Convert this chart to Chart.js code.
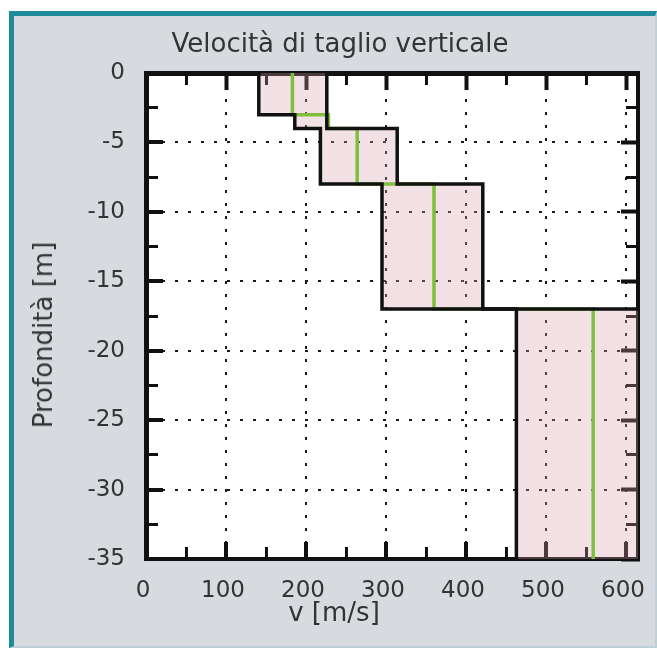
<!DOCTYPE html>
<html>
<head>
<meta charset="utf-8">
<script src="https://cdn.jsdelivr.net/npm/chart.js@4.4.1/dist/chart.umd.min.js"></script>
<style>
html,body{margin:0;padding:0;background:#ffffff;width:657px;height:648px;overflow:hidden;}
#frame{position:absolute;left:9px;top:11px;width:641px;height:630px;background:#d7dbdf;
  border-left:5px solid #1f8a9b;border-top:5px solid #1f8a9b;border-right:2px solid #bcd0d5;border-bottom:2px solid #bcd0d5;}
canvas{position:absolute;left:0;top:0;}
.t{position:absolute;font-family:"DejaVu Sans",Verdana,sans-serif;color:#333;font-size:26px;white-space:nowrap;line-height:1;}
</style>
</head>
<body>
<div id="frame"></div>
<canvas id="c" width="657" height="648"></canvas>
<div class="t" style="left:340px;top:43px;transform:translate(-50%,-50%);">Velocità di taglio verticale</div>
<div class="t" style="left:334px;top:612px;transform:translate(-50%,-50%);">v [m/s]</div>
<div class="t" style="left:43px;top:335px;transform:translate(-50%,-50%) rotate(-90deg);">Profondità [m]</div>
<script>
// ---- data ----
const layerTop    = [0, 3, 4, 8, 17];          // m (depth of layer top)
const layerBottom = [3, 4, 8, 17, 35];         // m (depth of layer bottom)
const vsMin  = [141, 186, 218, 295, 463];      // m/s, lower bound of each layer
const vsMax  = [226, 226, 314, 421, 650];      // m/s, upper bound (last one beyond the axis)
const vsMean = [183, 228, 264, 360, 559];      // m/s, mean profile (green)

const xMajor = [0, 100, 200, 300, 400, 500, 600];
const xLabels = ['0', '100', '200', '300', '400', '500', '600'];
const xMinor = [50, 150, 250, 350, 450, 550];
const yMajor = [-35, -30, -25, -20, -15, -10, -5, 0];
const yLabels = ['-35', '-30', '-25', '-20', '-15', '-10', '-5', '0'];
const yMinor = [-32.5, -27.5, -22.5, -17.5, -12.5, -7.5, -2.5];

// ---- build step profiles from the layer arrays ----
function profile(vals) {
  const pts = [];
  vals.forEach((v, i) => {
    pts.push({x: v, y: -layerTop[i]});
    pts.push({x: v, y: -layerBottom[i]});
  });
  return pts;
}
const minPts = profile(vsMin);
const maxPts = profile(vsMax);
const meanPts = profile(vsMean);
const bandPts = minPts.concat(maxPts.slice().reverse());

const plotBg = {
  id: 'plotBg',
  beforeDraw(chart) {
    const {ctx, chartArea: a} = chart;
    ctx.save();
    ctx.fillStyle = '#ffffff';
    ctx.fillRect(a.left, a.top, a.right - a.left, a.bottom - a.top);
    ctx.restore();
  }
};

const tickFont = {family: 'DejaVu Sans', size: 23};
const ink = '#111';
const setTicks = arr => s => { s.ticks = arr.map(v => ({value: v})); };
const fitTo = (dim, px) => s => {
  s[dim] = px;
  s.paddingLeft = 0; s.paddingRight = 0; s.paddingTop = 0; s.paddingBottom = 0;
};
const dotted = ctx => (ctx.tick && ctx.tick.value !== 0 && ctx.tick.value !== -35) ? '#1a1a1a' : 'rgba(0,0,0,0)';

const XR = {min: 0, max: 615};
const YR = {min: -35, max: 0};

new Chart(document.getElementById('c'), {
  type: 'line',
  data: {
    datasets: [
      {data: bandPts, fill: 'shape', backgroundColor: 'rgba(215,160,170,0.3)', borderWidth: 0, pointRadius: 0, order: 3},
      {data: meanPts, borderColor: '#7fbf3c', borderWidth: 3.5, pointRadius: 0, fill: false, order: 2},
      {data: minPts, borderColor: ink, borderWidth: 3.5, pointRadius: 0, fill: false, order: 1},
      {data: maxPts, borderColor: ink, borderWidth: 3.5, pointRadius: 0, fill: false, order: 1}
    ]
  },
  options: {
    responsive: false,
    animation: false,
    devicePixelRatio: 1,
    layout: {padding: 0},
    plugins: {legend: {display: false}, tooltip: {enabled: false}, title: {display: false}},
    scales: {
      x: {type: 'linear', axis: 'x', position: 'bottom', ...XR, bounds: 'data', weight: 1,
        afterBuildTicks: setTicks(xMajor), afterFit: fitTo('height', 89),
        ticks: {autoSkip: false, maxRotation: 0, padding: 35, labelOffset: -3, font: tickFont, color: '#333',
          callback: (v, i) => xLabels[i]},
        grid: {drawOnChartArea: true, color: dotted, lineWidth: 2, drawTicks: true, tickLength: -17,
          tickColor: ink, tickWidth: 4, tickBorderDash: []},
        border: {display: true, color: ink, width: 4, dash: [3, 10]}
      },
      xm: {type: 'linear', axis: 'x', position: 'bottom', ...XR, bounds: 'data', weight: 0,
        afterBuildTicks: setTicks(xMinor), afterFit: fitTo('height', 0),
        ticks: {display: false},
        grid: {drawOnChartArea: false, tickLength: -12, tickColor: ink, tickWidth: 3},
        border: {display: false}
      },
      x2: {type: 'linear', axis: 'x', position: 'top', ...XR, bounds: 'data', weight: 1, z: 1,
        afterBuildTicks: setTicks(xMajor), afterFit: fitTo('height', 73),
        ticks: {display: false},
        grid: {drawOnChartArea: false, tickLength: -17, tickColor: ink, tickWidth: 4},
        border: {display: true, color: ink, width: 5}
      },
      x2m: {type: 'linear', axis: 'x', position: 'top', ...XR, bounds: 'data', weight: 0, z: 1,
        afterBuildTicks: setTicks(xMinor), afterFit: fitTo('height', 0),
        ticks: {display: false},
        grid: {drawOnChartArea: false, tickLength: -12, tickColor: ink, tickWidth: 3},
        border: {display: false}
      },
      y: {type: 'linear', axis: 'y', position: 'left', ...YR, bounds: 'data', weight: 1,
        afterBuildTicks: setTicks(yMajor), afterFit: fitTo('width', 146),
        ticks: {autoSkip: false, padding: 38, font: tickFont, color: '#333',
          callback: (v, i) => yLabels[i]},
        grid: {drawOnChartArea: true, color: dotted, lineWidth: 2, drawTicks: true, tickLength: -17,
          tickColor: ink, tickWidth: 4, tickBorderDash: []},
        border: {display: true, color: ink, width: 5, dash: [3, 10]}
      },
      ym: {type: 'linear', axis: 'y', position: 'left', ...YR, bounds: 'data', weight: 0,
        afterBuildTicks: setTicks(yMinor), afterFit: fitTo('width', 0),
        ticks: {display: false},
        grid: {drawOnChartArea: false, tickLength: -12, tickColor: ink, tickWidth: 3},
        border: {display: false}
      },
      y2: {type: 'linear', axis: 'y', position: 'right', ...YR, bounds: 'data', weight: 1, z: 1,
        afterBuildTicks: setTicks(yMajor), afterFit: fitTo('width', 19),
        ticks: {display: false},
        grid: {drawOnChartArea: false, tickLength: -17, tickColor: ink, tickWidth: 4},
        border: {display: true, color: ink, width: 4}
      },
      y2m: {type: 'linear', axis: 'y', position: 'right', ...YR, bounds: 'data', weight: 0, z: 1,
        afterBuildTicks: setTicks(yMinor), afterFit: fitTo('width', 0),
        ticks: {display: false},
        grid: {drawOnChartArea: false, tickLength: -12, tickColor: ink, tickWidth: 3},
        border: {display: false}
      }
    }
  },
  plugins: [plotBg]
});
</script>
</body>
</html>
